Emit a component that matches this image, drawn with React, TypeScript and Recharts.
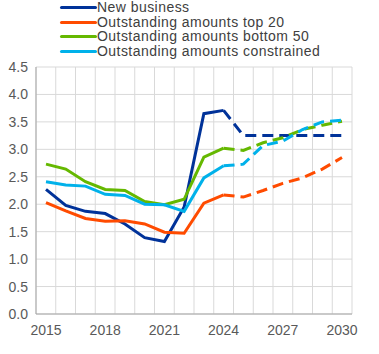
import React from 'react';
import { LineChart, Line, XAxis, YAxis, CartesianGrid } from 'recharts';

const years = [2015, 2016, 2017, 2018, 2019, 2020, 2021, 2022, 2023, 2024, 2025, 2026, 2027, 2028, 2029, 2030];
const yTicks = [0, 0.5, 1, 1.5, 2, 2.5, 3, 3.5, 4, 4.5];

// actual values 2015-2024
const newBusiness = [2.27, 1.98, 1.87, 1.83, 1.64, 1.39, 1.32, 1.95, 3.65, 3.71];
const top20 = [2.03, 1.88, 1.74, 1.69, 1.7, 1.64, 1.49, 1.47, 2.02, 2.17];
const bottom50 = [2.73, 2.64, 2.41, 2.27, 2.25, 2.05, 1.99, 2.09, 2.86, 3.02];
const constrained = [2.41, 2.35, 2.33, 2.18, 2.16, 2.0, 1.99, 1.87, 2.48, 2.7];

// projections 2024-2030
const newBusinessProj = [3.71, 3.25, 3.25, 3.25, 3.25, 3.25, 3.25];
const top20Proj = [2.17, 2.13, 2.25, 2.38, 2.48, 2.64, 2.85];
const bottom50Proj = [3.02, 2.98, 3.12, 3.21, 3.36, 3.44, 3.51];
const constrainedProj = [2.7, 2.73, 3.07, 3.15, 3.36, 3.5, 3.53];

const series = [
  { key: 'nb', name: 'New business', color: '#003299', actual: newBusiness, proj: newBusinessProj },
  { key: 't20', name: 'Outstanding amounts top 20', color: '#FF4B00', actual: top20, proj: top20Proj },
  { key: 'b50', name: 'Outstanding amounts bottom 50', color: '#65B800', actual: bottom50, proj: bottom50Proj },
  { key: 'con', name: 'Outstanding amounts constrained', color: '#00B1EA', actual: constrained, proj: constrainedProj },
];

const projStart = 9; // index of 2024

const data = years.map((year, i) => {
  const row: { [k: string]: number | null } = { year };
  series.forEach((s) => {
    row[s.key] = i < s.actual.length ? s.actual[i] : null;
    row[s.key + 'P'] = i >= projStart ? s.proj[i - projStart] : null;
  });
  return row;
});

const font = '"Liberation Sans", Arial, sans-serif';

// legend drawn as plain html on top of the chart
const ChartLegend = () => (
  <div
    style={{
      position: 'absolute',
      left: 60,
      top: 0,
      fontFamily: font,
      fontSize: 14,
      color: '#404040',
      lineHeight: '14.7px',
    }}
  >
    {series.map((s) => (
      <div key={s.key} style={{ display: 'flex', alignItems: 'center', height: 14.7 }}>
        <div style={{ width: 37, height: 3, background: s.color, borderRadius: 1.5 }} />
        <span style={{ whiteSpace: 'nowrap', letterSpacing: 0.45 }}>{s.name}</span>
      </div>
    ))}
  </div>
);

export default function App() {
  return (
    <div style={{ position: 'absolute', left: 0, top: 0, width: 379, height: 354, background: '#fff' }}>
      <LineChart
        width={379}
        height={354}
        data={data}
        margin={{ top: 67, right: 27, bottom: 0, left: 0 }}
      >
        <CartesianGrid
          stroke="#d9d9d9"
          strokeWidth={1}
          verticalCoordinatesGenerator={({ offset }: any) => {
            const n = years.length;
            return Array.from({ length: n + 1 }, (_, i) => offset.left + (offset.width * i) / n);
          }}
        />
        <XAxis
          dataKey="year"
          interval={2}
          padding={{ left: 10, right: 10 }}
          tickLine={false}
          axisLine={{ stroke: '#a6a6a6' }}
          tick={{ fill: '#595959', fontSize: 14, fontFamily: font }}
          tickMargin={5}
          height={40}
        />
        <YAxis
          domain={[0, 4.5]}
          ticks={yTicks}
          interval={0}
          tickFormatter={(v: number) => v.toFixed(1)}
          tickLine={false}
          axisLine={{ stroke: '#a6a6a6' }}
          tick={{ fill: '#595959', fontSize: 14, fontFamily: font }}
          width={36}
        />
        {series.map((s) => (
          <Line
            key={s.key}
            dataKey={s.key}
            name={s.name}
            stroke={s.color}
            strokeWidth={3}
            dot={false}
            type="linear"
            isAnimationActive={false}
          />
        ))}
        {series.map((s) => (
          <Line
            key={s.key + 'P'}
            dataKey={s.key + 'P'}
            name={s.name + ' projection'}
            stroke={s.color}
            strokeWidth={3}
            strokeDasharray="11 6"
            dot={false}
            type="linear"
            isAnimationActive={false}
          />
        ))}
      </LineChart>
      <ChartLegend />
    </div>
  );
}
